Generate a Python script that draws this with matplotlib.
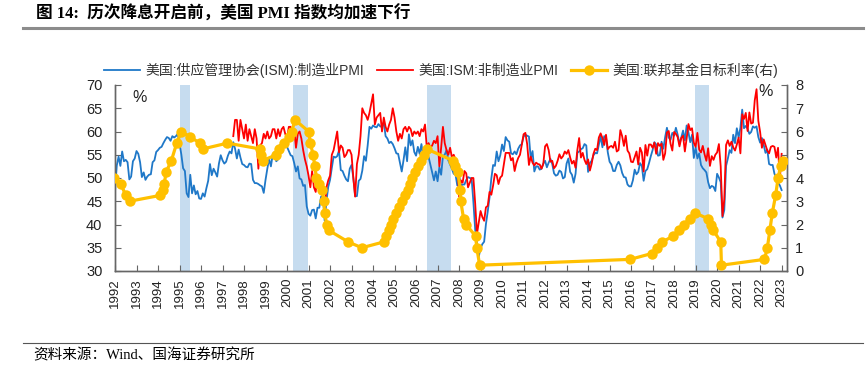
import numpy as np
import pandas as pd
import matplotlib
matplotlib.use("Agg")
import matplotlib.pyplot as plt
from matplotlib.lines import Line2D

# ---------------- data ----------------
year_ticks = list(range(1992, 2024))

# ISM manufacturing PMI, monthly from 1992-01
mfg_start = "1992-01"
mfg_pmi = [
    47.3, 52.7, 54.6, 52.6, 55.7, 53.6, 53.9, 53.4, 49.7, 50.3, 53.6, 54.2,  # 1992
    55.8, 55.2, 53.4, 50.2, 51.2, 49.6, 50.3, 50.7, 50.8, 53.4, 53.8, 55.6,  # 1993
    56.0, 56.5, 56.7, 57.5, 58.2, 58.8, 58.6, 58.0, 59.0, 58.7, 59.0, 59.5,  # 1994
    57.4, 55.1, 52.1, 51.5, 46.7, 45.9, 50.7, 46.7, 48.4, 46.5, 47.2, 45.6,  # 1995
    45.5, 46.7, 46.0, 47.8, 49.4, 53.0, 50.6, 52.0, 51.2, 50.3, 53.1, 54.9,  # 1996
    53.8, 53.1, 53.5, 54.8, 55.7, 55.3, 57.7, 56.3, 54.2, 56.1, 54.4, 53.0,  # 1997
    52.8, 52.4, 52.3, 53.1, 53.0, 49.6, 48.9, 48.9, 48.7, 48.4, 48.2, 46.8,  # 1998
    49.6, 52.0, 54.1, 52.5, 55.0, 55.5, 53.6, 54.0, 57.1, 56.6, 57.0, 57.5,  # 1999
    56.7, 55.8, 54.9, 54.7, 53.2, 51.4, 52.5, 49.9, 49.7, 48.3, 48.5, 43.9,  # 2000
    42.3, 41.9, 43.1, 43.2, 41.3, 43.6, 43.6, 46.0, 46.2, 40.8, 45.1, 48.1,  # 2001
    49.6, 52.2, 54.6, 54.4, 54.7, 55.9, 51.7, 51.5, 50.5, 49.7, 49.3, 52.0,  # 2002
    52.8, 50.0, 46.1, 46.1, 49.4, 49.8, 51.6, 54.7, 53.7, 57.0, 61.0, 60.6,  # 2003
    61.3, 61.0, 60.9, 61.6, 61.1, 61.0, 62.0, 59.0, 58.5, 57.5, 57.8, 57.3,  # 2004
    56.4, 55.3, 55.2, 53.3, 51.4, 53.8, 56.6, 53.6, 59.4, 57.0, 58.1, 55.6,  # 2005
    54.8, 56.7, 55.2, 57.3, 54.4, 53.8, 54.7, 54.5, 52.9, 51.2, 49.5, 51.4,  # 2006
    49.3, 52.3, 50.7, 54.7, 55.0, 56.0, 53.8, 52.9, 52.0, 50.9, 50.8, 48.4,  # 2007
    50.7, 48.3, 48.6, 48.6, 49.6, 50.2, 50.0, 49.9, 44.8, 38.9, 36.2, 33.1,  # 2008
    34.9, 35.8, 36.3, 40.1, 42.8, 45.8, 49.9, 52.8, 52.6, 55.7, 53.6, 54.9,  # 2009
    57.2, 55.8, 58.8, 58.1, 57.8, 55.3, 55.1, 55.7, 55.1, 56.3, 57.0, 57.3,  # 2010
    58.9, 59.3, 59.1, 58.9, 54.1, 55.8, 51.4, 52.5, 52.5, 51.8, 52.0, 53.1,  # 2011
    53.7, 52.3, 53.3, 54.1, 53.0, 51.0, 50.5, 50.7, 51.6, 51.3, 49.9, 50.2,  # 2012
    53.1, 54.2, 51.3, 50.7, 49.0, 50.9, 55.4, 55.7, 56.2, 56.4, 57.3, 57.0,  # 2013
    51.3, 53.2, 53.7, 54.9, 55.4, 55.3, 57.1, 59.0, 56.6, 59.0, 58.7, 55.5,  # 2014
    53.5, 52.9, 51.5, 51.5, 52.8, 53.5, 52.7, 51.1, 50.2, 50.1, 48.6, 48.2,  # 2015
    48.2, 49.5, 51.8, 50.8, 51.3, 53.2, 52.6, 49.4, 51.5, 51.9, 53.2, 54.7,  # 2016
    56.0, 57.7, 57.2, 54.8, 54.9, 57.8, 56.3, 58.8, 60.8, 58.7, 58.2, 59.7,  # 2017
    59.1, 60.8, 59.3, 57.3, 58.7, 60.2, 58.1, 61.3, 59.8, 57.7, 59.3, 54.3,  # 2018
    56.6, 54.2, 55.3, 52.8, 52.1, 51.7, 51.2, 49.1, 47.8, 48.3, 48.1, 47.2,  # 2019
    50.9, 50.1, 49.1, 41.5, 43.1, 52.6, 54.2, 56.0, 55.4, 59.3, 57.5, 60.7,  # 2020
    58.7, 60.8, 64.7, 60.7, 61.2, 60.6, 59.5, 59.9, 61.1, 60.8, 61.1, 58.8,  # 2021
    57.6, 58.6, 57.1, 55.4, 56.1, 53.0, 52.8, 52.8, 50.9, 50.2, 49.0, 48.4,  # 2022
    47.4,                                                                    # 2023
]

# ISM non-manufacturing PMI, monthly from 1997-07
nonmfg_start = "1997-07"
nonmfg_pmi = [
    59.0, 62.5, 62.5, 58.0, 62.5, 60.5,                                      # 1997 H2
    58.5, 61.5, 58.0, 60.5, 59.0, 57.5, 60.5, 58.5, 52.0, 57.0, 57.5, 59.5,  # 1998
    58.5, 60.0, 58.5, 59.0, 60.5, 60.5, 58.5, 60.5, 59.0, 60.5, 61.0, 59.5,  # 1999
    58.5, 61.0, 61.0, 58.5, 60.5, 56.5, 59.5, 60.0, 58.5, 56.0, 54.0, 52.5,  # 2000
    50.5, 48.0, 51.5, 48.0, 47.0, 50.5, 48.5, 47.5, 46.5, 43.5, 48.0, 49.5,  # 2001
    50.5, 55.0, 56.0, 58.0, 60.0, 55.5, 57.0, 56.5, 54.5, 55.0, 56.0, 56.0,  # 2002
    55.0, 50.0, 46.0, 53.0, 55.0, 59.0, 65.0, 64.0, 63.5, 62.5, 64.0, 66.0,  # 2003
    68.0, 61.5, 63.0, 63.5, 64.0, 60.0, 63.0, 61.0, 60.0, 61.5, 62.5, 65.0,  # 2004
    63.0, 60.0, 58.0, 59.5, 58.5, 60.5, 61.0, 60.0, 61.0, 60.5, 59.0, 60.0,  # 2005
    59.5, 60.0, 59.0, 60.5, 60.0, 61.5, 56.5, 57.5, 56.5, 57.0, 58.0, 57.5,  # 2006
    59.0, 52.5, 56.5, 61.0, 57.5, 56.0, 55.0, 56.5, 54.5, 55.0, 54.0, 53.5,  # 2007
    46.0, 49.5, 49.0, 51.5, 51.0, 48.0, 49.0, 50.0, 50.0, 44.5, 38.0, 40.5,  # 2008
    42.9, 41.6, 40.8, 43.7, 44.0, 47.0, 46.4, 48.4, 50.9, 50.6, 48.7, 50.1,  # 2009
    50.5, 53.0, 55.4, 55.4, 55.4, 53.8, 54.3, 51.5, 53.2, 54.3, 55.0, 57.1,  # 2010
    59.4, 59.7, 57.3, 52.8, 54.6, 53.3, 52.7, 53.3, 53.0, 52.9, 52.0, 53.0,  # 2011
    56.8, 57.3, 56.0, 53.5, 53.7, 52.1, 52.6, 53.7, 55.1, 54.2, 54.7, 55.7,  # 2012
    55.2, 56.0, 54.4, 53.1, 53.7, 52.2, 56.0, 58.6, 54.4, 55.4, 53.9, 53.0,  # 2013
    54.0, 51.6, 53.1, 55.2, 56.3, 56.0, 58.7, 59.6, 58.6, 57.1, 59.3, 56.2,  # 2014
    56.7, 56.9, 56.5, 57.8, 55.7, 56.0, 60.3, 59.0, 56.9, 59.1, 55.9, 55.3,  # 2015
    53.5, 53.4, 54.5, 55.7, 52.9, 56.5, 55.5, 51.4, 57.1, 54.8, 57.2, 57.2,  # 2016
    56.5, 57.6, 55.2, 57.5, 56.9, 57.4, 53.9, 55.3, 59.8, 60.1, 57.4, 55.9,  # 2017
    59.9, 59.5, 58.8, 56.8, 58.6, 59.1, 55.7, 58.5, 61.6, 60.3, 60.7, 57.6,  # 2018
    56.7, 59.7, 56.1, 55.5, 56.9, 55.1, 53.7, 56.4, 52.6, 54.7, 53.9, 55.0,  # 2019
    55.5, 57.3, 52.5, 41.8, 45.4, 57.1, 58.1, 56.9, 57.8, 56.6, 55.9, 57.2,  # 2020
    58.7, 55.3, 63.7, 62.7, 64.0, 60.1, 64.1, 61.7, 61.9, 66.7, 69.1, 62.3,  # 2021
    59.9, 56.5, 58.3, 57.1, 55.9, 55.3, 56.7, 56.9, 56.7, 54.4, 56.5, 49.6,  # 2022
    55.2,                                                                    # 2023
]

# Fed funds target rate (upper bound) at each change
fed_dates = [
    "1991-12-20", "1992-04-09", "1992-07-02", "1992-09-04", "1994-02-04", "1994-03-22",
    "1994-04-18", "1994-05-17", "1994-08-16", "1994-11-15", "1995-02-01", "1995-07-06",
    "1995-12-19", "1996-01-31", "1997-03-25", "1998-09-29", "1998-10-15", "1998-11-17",
    "1999-06-30", "1999-08-24", "1999-11-16", "2000-02-02", "2000-03-21", "2000-05-16",
    "2001-01-03", "2001-01-31", "2001-03-20", "2001-04-18", "2001-05-15", "2001-06-27",
    "2001-08-21", "2001-09-17", "2001-10-02", "2001-11-06", "2001-12-11", "2002-11-06",
    "2003-06-25", "2004-06-30", "2004-08-10", "2004-09-21", "2004-11-10", "2004-12-14",
    "2005-02-02", "2005-03-22", "2005-05-03", "2005-06-30", "2005-08-09", "2005-09-20",
    "2005-11-01", "2005-12-13", "2006-01-31", "2006-03-28", "2006-05-10", "2006-06-29",
    "2007-09-18", "2007-10-31", "2007-12-11", "2008-01-22", "2008-01-30", "2008-03-18",
    "2008-04-30", "2008-10-08", "2008-10-29", "2008-12-16", "2015-12-16", "2016-12-14",
    "2017-03-15", "2017-06-14", "2017-12-13", "2018-03-21", "2018-06-13", "2018-09-26",
    "2018-12-19", "2019-07-31", "2019-09-18", "2019-10-30", "2020-03-03", "2020-03-15",
    "2022-03-16", "2022-05-04", "2022-06-15", "2022-07-27", "2022-09-21", "2022-11-02",
    "2022-12-14", "2023-02-01",
]
fed_rate = [
    4.00, 3.75, 3.25, 3.00, 3.25, 3.50,
    3.75, 4.25, 4.75, 5.50, 6.00, 5.75,
    5.50, 5.25, 5.50, 5.25, 5.00, 4.75,
    5.00, 5.25, 5.50, 5.75, 6.00, 6.50,
    6.00, 5.50, 5.00, 4.50, 4.00, 3.75,
    3.50, 3.00, 2.50, 2.00, 1.75, 1.25,
    1.00, 1.25, 1.50, 1.75, 2.00, 2.25,
    2.50, 2.75, 3.00, 3.25, 3.50, 3.75,
    4.00, 4.25, 4.50, 4.75, 5.00, 5.25,
    4.75, 4.50, 4.25, 3.50, 3.00, 2.25,
    2.00, 1.50, 1.00, 0.25, 0.50, 0.75,
    1.00, 1.25, 1.50, 1.75, 2.00, 2.25,
    2.50, 2.25, 2.00, 1.75, 1.25, 0.25,
    0.50, 1.00, 1.75, 2.50, 3.25, 4.00,
    4.50, 4.75,
]

# Shaded periods (before rate-cut cycles), decimal years
shade_start = [1995.02, 2000.29, 2006.50, 2018.98]
shade_end = [1995.49, 2000.99, 2007.61, 2019.60]

labels = ["美国:供应管理协会(ISM):制造业PMI", "美国:ISM:非制造业PMI", "美国:联邦基金目标利率(右)"]
title = "图 14:  历次降息开启前，美国 PMI 指数均加速下行"
source = "资料来源：Wind、国海证券研究所"


# ---------------- helpers ----------------
def monthly_positions(start, n):
    d = pd.date_range(start, periods=n, freq="MS")
    return d.year + (d.month - 1) / 12.0


def decimal_years(dates):
    d = pd.to_datetime(dates)
    days = np.where(d.is_leap_year, 366.0, 365.0)
    return d.year + (d.dayofyear - 1) / days


x_mfg = monthly_positions(mfg_start, len(mfg_pmi))
x_non = monthly_positions(nonmfg_start, len(nonmfg_pmi))
x_fed = decimal_years(fed_dates)

# ---------------- styles ----------------
BLUE = "#1f78c8"
RED = "#ff0000"
YELLOW = "#ffc000"
SHADE = "#c6dcef"
SPINE = "#666666"
SANS = ["Liberation Sans", "Noto Sans CJK SC"]
SERIF = ["Liberation Serif", "Noto Sans CJK SC"]

W, H = 866, 372
fig = plt.figure(figsize=(W / 100, H / 100), dpi=100)
ax = fig.add_axes([115 / W, (H - 271) / H, 672 / W, 186 / H])

for s, e in zip(shade_start, shade_end):
    ax.axvspan(s, e, ymin=0, ymax=1, color=SHADE, lw=0, zorder=0)

l1, = ax.plot(x_mfg, mfg_pmi, color=BLUE, lw=1.3, zorder=2)
l2, = ax.plot(x_non, nonmfg_pmi, color=RED, lw=1.3, zorder=3)

ax.set_xlim(1992.0, 2023.25)
ax.set_ylim(30, 70)
ax.set_yticks(range(30, 71, 5))
ax.set_xticks(year_ticks)
ax.set_xticklabels([str(y) for y in year_ticks], rotation=90)

ax2 = ax.twinx()
l3, = ax2.plot(x_fed, fed_rate, color=YELLOW, lw=2.3, marker="o", ms=7.5,
               markeredgewidth=0, zorder=4)
ax2.set_ylim(0, 8)
ax2.set_yticks(range(0, 9))
ax2.set_xlim(1992.0, 2023.25)

for a in (ax, ax2):
    a.spines["top"].set_visible(False)
    for sp in ("left", "right", "bottom"):
        a.spines[sp].set_color(SPINE)
        a.spines[sp].set_linewidth(1.0)

ax.tick_params(axis="y", direction="in", length=4, width=0.8, color=SPINE, pad=9,
               labelsize=10.5, labelcolor="#222222")
ax.tick_params(axis="x", direction="in", length=4, width=0.8, color=SPINE, pad=5,
               labelsize=9.5, labelcolor="#222222")
ax2.tick_params(axis="y", direction="in", length=4, width=0.8, color=SPINE, pad=6,
                labelsize=10.5, labelcolor="#222222")
for lab in ax.get_xticklabels() + ax.get_yticklabels() + ax2.get_yticklabels():
    lab.set_fontfamily(SANS)

ax.text((140 - 115) / 672, (271 - 97) / 186, "%", transform=ax.transAxes,
        ha="center", va="center", fontsize=11.5, family=SANS, color="#222222")
ax2.text((766 - 115) / 672, (271 - 92) / 186, "%", transform=ax2.transAxes,
         ha="center", va="center", fontsize=11.5, family=SANS, color="#222222")

leg = fig.legend([l1, l2, l3], labels, loc="center", ncol=3,
                 bbox_to_anchor=(441 / W, (H - 70) / H), frameon=False,
                 prop={"family": SANS, "size": 10}, handlelength=2.6,
                 handletextpad=0.4, columnspacing=0.9, borderaxespad=0)
for t in leg.get_texts():
    t.set_color("#333333")

# title and frame lines
fig.text(36 / W, (H - 14) / H, title, ha="left", va="center", fontsize=12,
         fontweight="bold", family=SERIF, color="#000000")
fig.add_artist(Line2D([23 / W, 863 / W], [(H - 28) / H] * 2, color="#8c8c8c", lw=2.2))
fig.add_artist(Line2D([23 / W, 863 / W], [(H - 343) / H] * 2, color="#555555", lw=0.8))
fig.text(33 / W, (H - 355) / H, source, ha="left", va="center", fontsize=10.5,
         family=SERIF, color="#000000")

fig.savefig("out.png", dpi=100)
